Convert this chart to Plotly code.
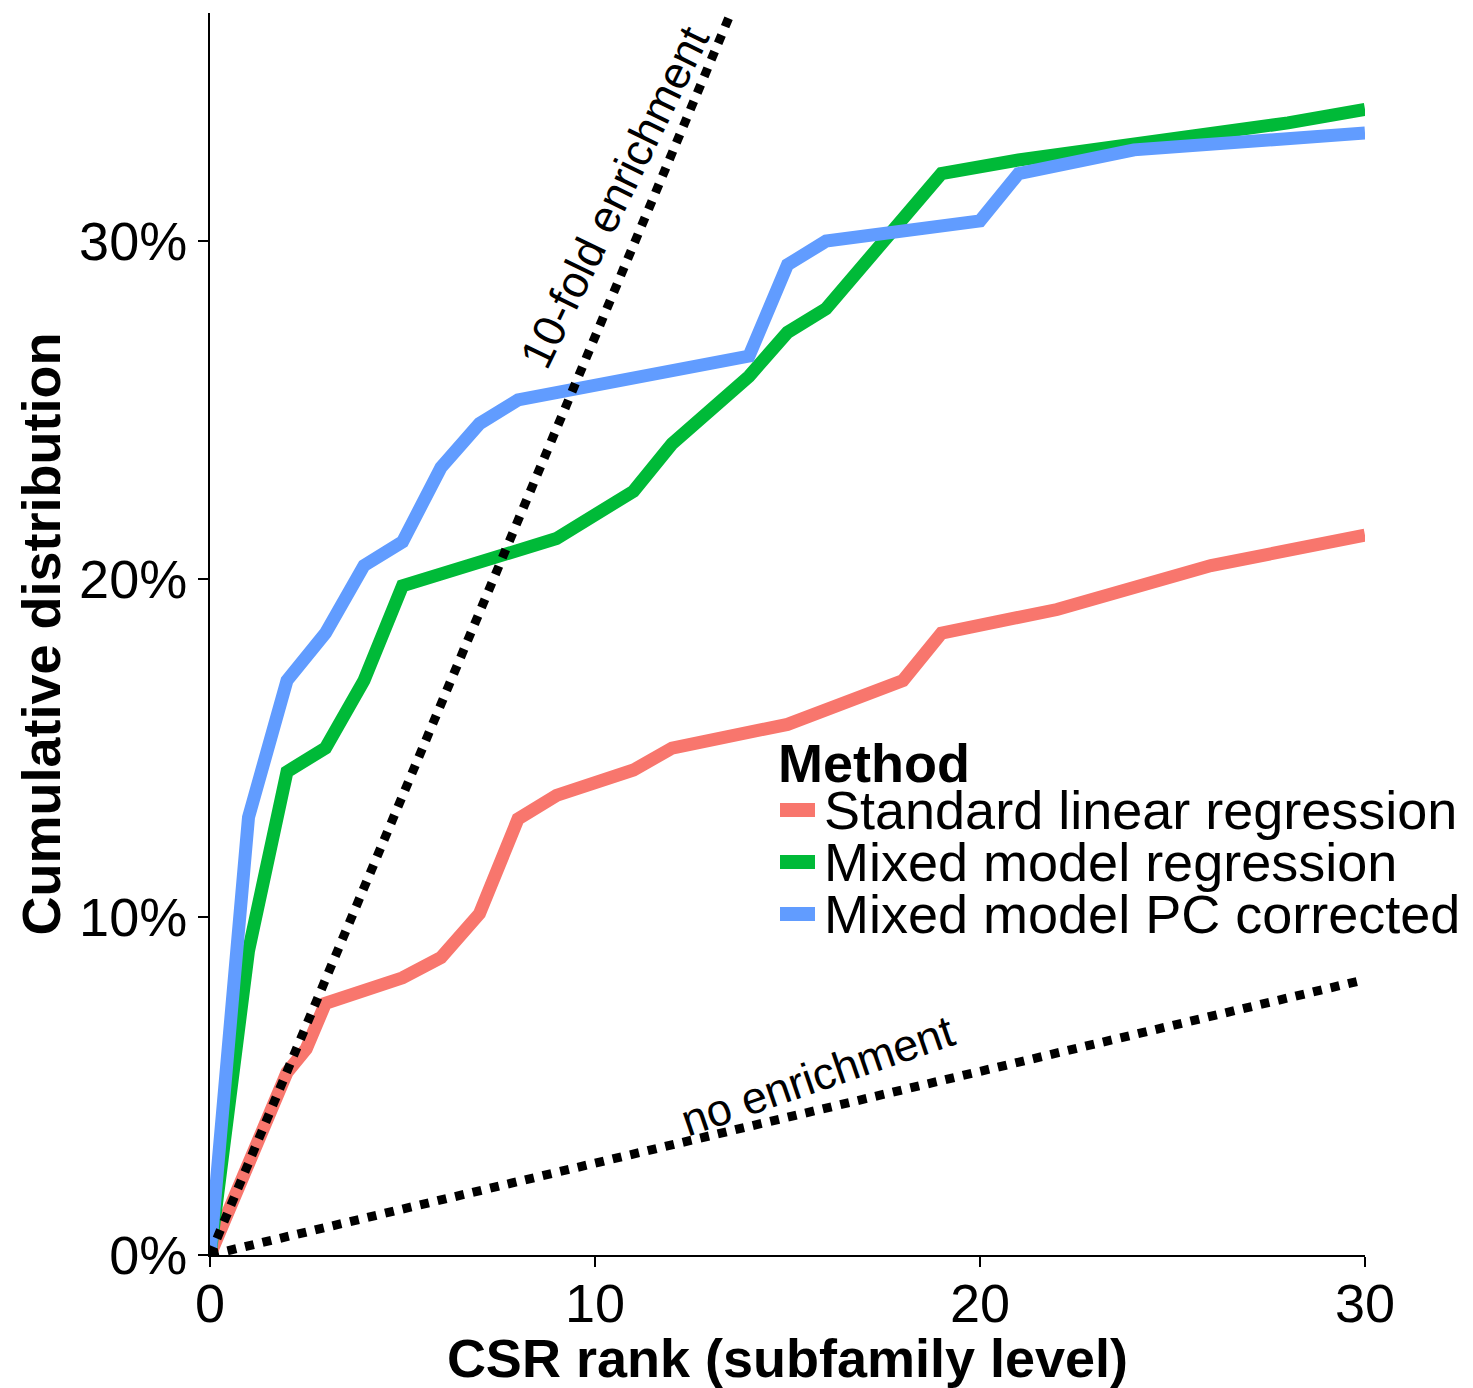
import plotly.graph_objects as go

# ---- data ----
rank_slr = [0, 2, 2.5, 3, 5, 6, 7, 8, 9, 11, 12, 15, 18, 19, 22, 26, 30]
cum_slr = [0, 5.4, 6.1, 7.45, 8.2, 8.8, 10.1, 12.9, 13.6, 14.35, 15.0, 15.7, 17.0, 18.4, 19.1, 20.4, 21.3]

rank_mm = [0, 1, 2, 3, 4, 5, 9, 11, 12, 14, 15, 16, 19, 21, 28, 30]
cum_mm = [0, 9.0, 14.3, 15.0, 17.0, 19.8, 21.2, 22.6, 24.0, 26.0, 27.3, 28.0, 32.0, 32.4, 33.5, 33.9]

rank_pc = [0, 1, 2, 3, 4, 5, 6, 7, 8, 14, 15, 16, 20, 21, 24, 30]
cum_pc = [0, 12.95, 17.0, 18.4, 20.4, 21.1, 23.3, 24.6, 25.3, 26.6, 29.3, 30.0, 30.6, 32.0, 32.7, 33.2]

ref_x = [0, 30]
no_enrich_y = [0, 8.15]
tenfold_y = [0, 81.5]

methods = ["Standard linear regression", "Mixed model regression", "Mixed model PC corrected"]
colors = ["#F8766D", "#00BA38", "#619CFF"]

x_ticks = [0, 10, 20, 30]
y_ticks = [0, 10, 20, 30]

FONT = "Liberation Sans, Arial, Helvetica, sans-serif"

W, H = 1473, 1388
ML, MR, MT, MB = 210, 108, 13, 133
PW, PH = W - ML - MR, H - MT - MB


def px2paper_x(px):
    return (px - ML) / PW


def px2paper_y(py):
    return (H - MB - py) / PH


fig = go.Figure()

series = [(rank_slr, cum_slr), (rank_mm, cum_mm), (rank_pc, cum_pc)]
for (xs, ys), name, col in zip(series, methods, colors):
    fig.add_trace(go.Scatter(x=xs, y=ys, mode="lines", name=name,
                             line=dict(color=col, width=13),
                             showlegend=False))

for ys in (no_enrich_y, tenfold_y):
    fig.add_trace(go.Scatter(x=ref_x, y=ys, mode="lines", showlegend=False,
                             line=dict(color="black", width=9, dash="dot")))

annotations = [
    dict(x=10.5, y=31.3, xref="x", yref="y", text="10-fold enrichment",
         textangle=-64, showarrow=False, font=dict(family=FONT, size=45, color="black")),
    dict(x=15.8, y=5.3, xref="x", yref="y", text="no enrichment",
         textangle=-19, showarrow=False, font=dict(family=FONT, size=45, color="black")),
    dict(x=px2paper_x(776), y=px2paper_y(763), xref="paper", yref="paper",
         text="<b>Method</b>", showarrow=False, xanchor="left", yanchor="middle",
         font=dict(family=FONT, size=54, color="black")),
]
shapes = []
legend_y = [810, 862, 914]
for name, col, ly in zip(methods, colors, legend_y):
    annotations.append(dict(x=px2paper_x(822), y=px2paper_y(ly), xref="paper", yref="paper",
                            text=name, showarrow=False, xanchor="left", yanchor="middle",
                            font=dict(family=FONT, size=54, color="black")))
    shapes.append(dict(type="line", xref="paper", yref="paper",
                       x0=px2paper_x(780), x1=px2paper_x(815),
                       y0=px2paper_y(ly), y1=px2paper_y(ly),
                       line=dict(color=col, width=14)))

axis_common = dict(showline=True, linecolor="black", linewidth=2, ticks="outside",
                   ticklen=10, tickwidth=2, tickcolor="black", showgrid=False,
                   zeroline=False, tickfont=dict(family=FONT, size=54, color="black"))

fig.update_layout(
    width=W, height=H,
    margin=dict(l=ML, r=MR, t=MT, b=MB, autoexpand=False),
    paper_bgcolor="white", plot_bgcolor="white",
    font=dict(family=FONT, color="black"),
    xaxis=dict(range=[0, 30], tickvals=x_ticks, ticktext=[str(v) for v in x_ticks],
               ticklabelstandoff=-10,
               title=dict(text="CSR rank (subfamily level)", standoff=14,
                          font=dict(family=FONT, size=54, weight="bold")),
               **axis_common),
    yaxis=dict(range=[0, 36.75], tickvals=y_ticks, ticktext=[f"{v}%" for v in y_ticks],
               title=dict(text="Cumulative distribution", standoff=1,
                          font=dict(family=FONT, size=54, weight="bold")),
               **axis_common),
    annotations=annotations,
    shapes=shapes,
)

fig.write_html("out.html")
